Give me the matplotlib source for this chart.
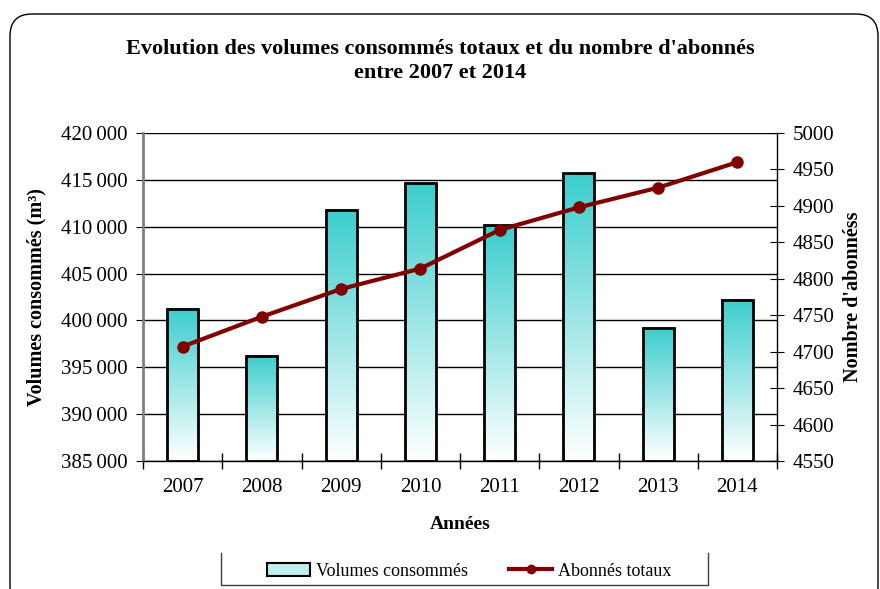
import numpy as np
import matplotlib.pyplot as plt
from matplotlib.patches import FancyBboxPatch, Patch
from matplotlib.lines import Line2D
from matplotlib.colors import LinearSegmentedColormap
from matplotlib.transforms import IdentityTransform
from matplotlib.ticker import FuncFormatter, FixedLocator

plt.rcParams['font.family'] = ['Liberation Serif', 'DejaVu Serif']

years = ['2007', '2008', '2009', '2010', '2011', '2012', '2013', '2014']
volumes = [401250, 396240, 411820, 414630, 410150, 415700, 399230, 402180]
abonnes = [4707, 4748, 4786, 4814, 4867, 4898, 4925, 4960]

VOL_MIN, VOL_MAX = 385000, 420000
AB_MIN, AB_MAX = 4550, 5000

fig = plt.figure(figsize=(8.8, 5.89), dpi=100)
ax = fig.add_axes([143 / 880, 1 - 461 / 589, (777 - 143) / 880, (461 - 133) / 589])

x = np.arange(len(years))
width = 0.39
cmap = LinearSegmentedColormap.from_list('teal', ['#ffffff', '#3ccdcd'])
grad = np.linspace(0, 1, 256).reshape(-1, 1)
for xi, v in zip(x, volumes):
    frac = (v - VOL_MIN) / (VOL_MAX - VOL_MIN)
    ax.imshow(grad[: max(2, int(256 * frac))], extent=[xi - width / 2, xi + width / 2, VOL_MIN, v],
              origin='lower', aspect='auto', cmap=cmap, vmin=0, vmax=frac if frac > 0 else 1,
              zorder=2, interpolation='bilinear')
ax.bar(x, np.array(volumes) - VOL_MIN, bottom=VOL_MIN, width=width, facecolor='none',
       edgecolor='black', linewidth=2, zorder=3)

ax.set_xlim(-0.5, len(years) - 0.5)
ax.set_ylim(VOL_MIN, VOL_MAX)
ax.set_yticks(np.arange(VOL_MIN, VOL_MAX + 1, 5000))
ax.yaxis.set_major_formatter(FuncFormatter(lambda v, p: f"{int(v):,}".replace(',', '\u2009')))
ax.yaxis.grid(True, color='black', linewidth=1)
ax.set_axisbelow(True)
ax.xaxis.set_major_locator(FixedLocator(x))
ax.set_xticklabels(years)
ax.xaxis.set_minor_locator(FixedLocator(np.arange(-0.5, len(years), 1)))
ax.tick_params(axis='x', which='major', length=0, pad=12, labelsize=15)
ax.tick_params(axis='x', which='minor', direction='inout', length=11, width=1)
ax.tick_params(axis='y', direction='out', length=5, labelsize=15, pad=6)
for s in ['top', 'right']:
    ax.spines[s].set_visible(False)
ax.spines['left'].set_color('#808080')
ax.spines['left'].set_linewidth(2)
ax.spines['bottom'].set_linewidth(1)

ax.set_xlabel('Années', fontsize=14, fontweight='bold', labelpad=14)
ax.set_ylabel('Volumes consommés (m³)', fontsize=14.5, fontweight='bold')
ax.yaxis.set_label_coords(-(143 - 46) / 634, 0.5)

ax2 = ax.twinx()
ax2.plot(x, abonnes, color='#800000', linewidth=3, marker='o', markersize=8, zorder=5)
ax2.set_ylim(AB_MIN, AB_MAX)
ax2.set_yticks(np.arange(AB_MIN, AB_MAX + 1, 50))
ax2.tick_params(axis='y', direction='inout', length=10, labelsize=15, pad=6)
for s in ['top', 'left', 'bottom']:
    ax2.spines[s].set_visible(False)
ax2.spines['right'].set_linewidth(1)
ax2.set_ylabel("Nombre d'abonnéss", fontsize=14.5, fontweight='bold')
ax2.yaxis.set_label_coords(1 + (843 - 777) / 634, 0.5)

fig.text(0.5, 1 - 61 / 589, "Evolution des volumes consommés totaux et du nombre d'abonnés\nentre 2007 et 2014",
         ha='center', va='center', fontsize=16, fontweight='bold', linespacing=1.3)

handles = [Patch(facecolor='#bfeeee', edgecolor='black', linewidth=1.5),
           Line2D([0], [0], color='#800000', linewidth=3, marker='o', markersize=6)]
leg = fig.legend(handles, ['Volumes consommés', 'Abonnés totaux'], loc='center',
                 bbox_to_anchor=(469 / 880, 1 - 571 / 589), ncol=2, frameon=False,
                 fontsize=13, handlelength=2.4, handletextpad=0.3, columnspacing=2.3)

# legend box (left, bottom, right lines)
fig.add_artist(Line2D([221 / 880, 221 / 880, 708 / 880, 708 / 880],
                      [1 - 553 / 589, 1 - 585 / 589, 1 - 585 / 589, 1 - 553 / 589],
                      transform=fig.transFigure, color='#404040', linewidth=1))

frame = FancyBboxPatch((10, -20), 868, 595, boxstyle='round,pad=0,rounding_size=22',
                       transform=IdentityTransform(), facecolor='none', edgecolor='black',
                       linewidth=1)
fig.add_artist(frame)

fig.savefig('out.png', dpi=100)
